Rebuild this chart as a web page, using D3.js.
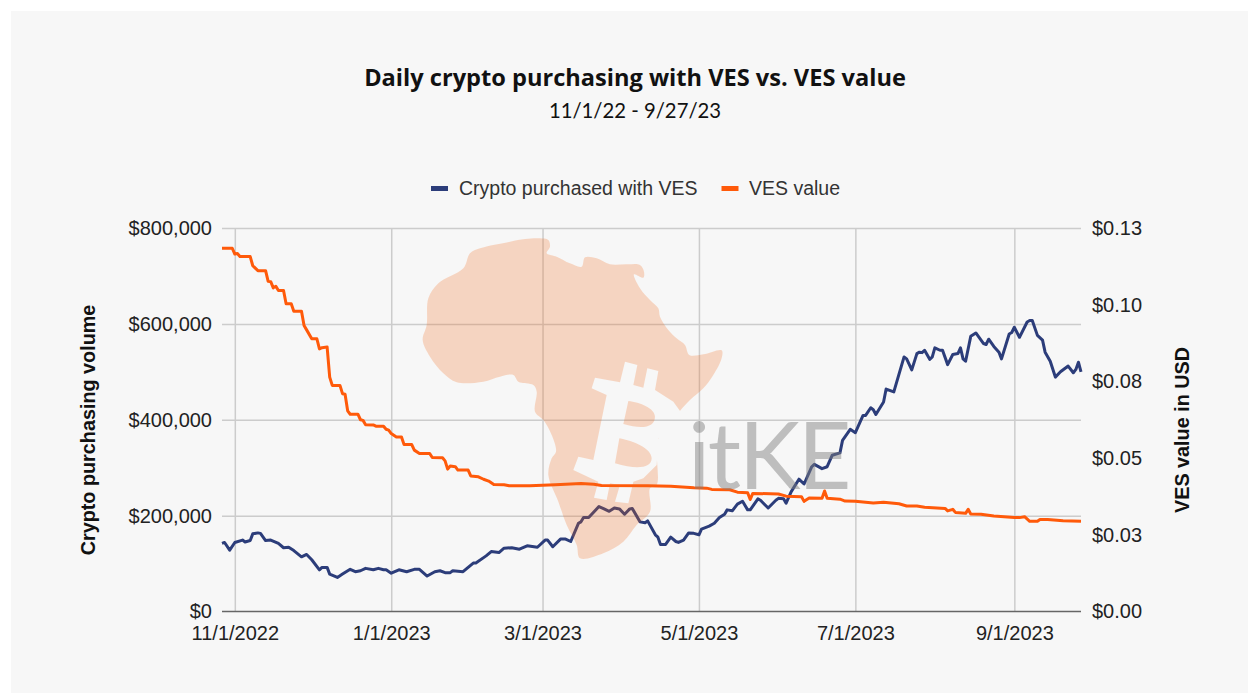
<!DOCTYPE html>
<html><head><meta charset="utf-8">
<script src="https://cdn.jsdelivr.net/npm/d3@7"></script>
<style>html,body{margin:0;padding:0;background:#fff}svg{display:block}text{font-family:"Liberation Sans",Arial,sans-serif}</style>
</head><body><div id="chart"></div>
<script>
const titleText = "Daily crypto purchasing with VES vs. VES value";
const subtitleText = "11/1/22 - 9/27/23";
const seriesNames = ["Crypto purchased with VES", "VES value"];
const leftAxisTitle = "Crypto purchasing volume";
const rightAxisTitle = "VES value in USD";
const startDate = "2022-10-27";
const xTickDates = ["2022-11-01","2023-01-01","2023-03-01","2023-05-01","2023-07-01","2023-09-01"];
const xTickLabels = ["11/1/2022","1/1/2023","3/1/2023","5/1/2023","7/1/2023","9/1/2023"];
const volumeTicks = [0,200000,400000,600000,800000];
const volumeTickLabels = ["$0","$200,000","$400,000","$600,000","$800,000"];
const vesTicks = [0,0.025,0.05,0.075,0.1,0.125];
const vesTickLabels = ["$0.00","$0.03","$0.05","$0.08","$0.10","$0.13"];
// days after startDate, and the value read on those days
const volumeDays = [0,1,3,5,8,9,11,12,14,15,17,19,22,24,26,28,31,33,35,38,39,41,42,45,47,50,52,54,56,59,61,63,64,66,69,72,75,77,80,83,85,87,89,90,94,98,99,103,105,108,110,113,116,119,123,126,127,129,132,134,136,139,140,141,143,147,149,151,153,155,157,159,160,163,165,166,169,170,171,173,175,177,178,180,182,184,186,187,190,192,194,196,197,199,201,203,205,206,209,210,213,216,217,219,220,222,225,227,230,231,234,236,238,241,242,245,247,250,251,253,254,255,258,259,262,266,267,269,271,272,273,274,276,277,278,280,281,283,285,287,288,289,290,292,294,297,298,299,301,303,304,307,308,309,311,314,315,316,318,320,321,323,325,327,330,332,333,334,335];
const volumeValues = [142000,144000,128000,144000,149000,145000,148000,162000,164000,163000,148000,149000,142000,133000,134000,127000,114000,119000,108000,87000,92000,92000,78000,71000,78000,88000,83000,85000,90000,87000,90000,87000,87000,80000,87000,83000,88000,88000,74000,83000,85000,81000,81000,85000,83000,101000,101000,116000,125000,123000,132000,133000,130000,137000,134000,149000,149000,135000,151000,151000,146000,184000,187000,196000,196000,219000,214000,209000,216000,214000,203000,214000,215000,187000,185000,189000,160000,155000,140000,140000,155000,146000,144000,149000,164000,163000,160000,172000,178000,184000,196000,203000,212000,210000,224000,230000,212000,212000,235000,232000,216000,232000,236000,235000,226000,250000,276000,266000,302000,307000,298000,302000,326000,331000,357000,380000,373000,409000,409000,425000,421000,411000,437000,464000,458000,531000,527000,504000,538000,541000,540000,545000,526000,531000,550000,545000,545000,515000,536000,538000,550000,527000,522000,574000,581000,559000,557000,568000,553000,541000,527000,579000,582000,593000,572000,604000,607000,607000,576000,566000,541000,522000,489000,500000,512000,498000,505000,520000,500000];
const vesDays = [0,4,5,6,7,11,12,14,17,18,19,20,21,22,24,25,27,28,31,32,33,35,37,38,39,41,42,43,46,47,48,49,50,53,54,55,56,59,60,63,64,65,66,68,70,71,74,75,77,81,82,86,87,88,89,91,92,96,97,100,102,104,106,110,112,120,130,140,145,148,166,175,184,189,191,198,201,205,206,207,217,220,226,227,229,234,235,236,241,243,247,254,258,264,267,271,274,282,283,285,286,290,291,292,296,301,309,311,313,315,318,319,322,328,335];
const vesValues = [0.1184,0.1184,0.1165,0.1167,0.1157,0.1157,0.1127,0.1111,0.1111,0.1076,0.1075,0.1055,0.106,0.1046,0.1046,0.1003,0.1003,0.0979,0.0979,0.0932,0.0918,0.0889,0.0889,0.0856,0.086,0.0862,0.0764,0.0737,0.0737,0.071,0.0708,0.0654,0.0643,0.0643,0.0625,0.0623,0.0609,0.0608,0.0604,0.0604,0.0594,0.0591,0.058,0.0569,0.0569,0.0544,0.0544,0.0526,0.0515,0.0515,0.0502,0.0501,0.0491,0.0464,0.0474,0.0472,0.0461,0.0461,0.0442,0.0439,0.0431,0.0425,0.0414,0.0413,0.041,0.041,0.0413,0.0417,0.0415,0.0411,0.041,0.0408,0.0403,0.0402,0.0398,0.0397,0.0389,0.0387,0.0365,0.0385,0.0383,0.0376,0.0374,0.0359,0.037,0.0369,0.0393,0.0369,0.0366,0.036,0.0359,0.0354,0.0356,0.0351,0.0344,0.0344,0.034,0.0336,0.0328,0.0333,0.0323,0.032,0.0333,0.0318,0.0317,0.0311,0.0306,0.0306,0.0309,0.0294,0.0294,0.03,0.03,0.0296,0.0294];

const W=1248,H=693, L=222, R=1081, T=228, B=611.5;
const BLUE="#2c3d7a", ORANGE="#ff5a0a", INK="#222222";
const parse=d3.utcParse("%Y-%m-%d");
const start=parse(startDate);
const dateOf=d=>d3.utcDay.offset(start,d);
const x=d3.scaleUtc().domain([start,dateOf(335)]).range([L,R]);
const yL=d3.scaleLinear().domain([0,800000]).range([B,T]);
const yR=d3.scaleLinear().domain([0,0.125]).range([B,T]);
const svg=d3.select("#chart").append("svg").attr("width",W).attr("height",H);
svg.append("rect").attr("x",11).attr("y",11).attr("width",W-11).attr("height",H-11).attr("fill","#f7f7f7");

// gridlines via the axes
const gridX=d3.axisBottom(x).tickValues(xTickDates.map(parse)).tickSize(-(B-T)).tickFormat("");
const gx=svg.append("g").attr("transform",`translate(0,${B})`).call(gridX);
gx.select(".domain").remove();
gx.selectAll("line").attr("stroke","#cccccc").attr("stroke-width",1.5);
const gridY=d3.axisLeft(yL).tickValues(volumeTicks.slice(1)).tickSize(-(R-L)).tickFormat("");
const gy=svg.append("g").attr("transform",`translate(${L},0)`).call(gridY);
gy.select(".domain").remove();
gy.selectAll("line").attr("stroke","#cccccc").attr("stroke-width",1.5);

// tick labels
const fmt=(sel)=>{sel.select(".domain").remove();sel.selectAll("line").remove();sel.selectAll("text").attr("font-size",20).attr("fill",INK).style("font-family",'"Liberation Sans",Arial,sans-serif');};
svg.append("g").attr("transform",`translate(${L-10},0)`)
  .call(d3.axisLeft(yL).tickValues(volumeTicks).tickSize(0).tickPadding(0).tickFormat((d,i)=>volumeTickLabels[i])).call(fmt);
svg.append("g").attr("transform",`translate(${R+11},0)`)
  .call(d3.axisRight(yR).tickValues(vesTicks).tickSize(0).tickPadding(0).tickFormat((d,i)=>vesTickLabels[i])).call(fmt);
svg.append("g").attr("transform",`translate(0,${B+14})`)
  .call(d3.axisBottom(x).tickValues(xTickDates.map(parse)).tickSize(0).tickPadding(0).tickFormat((d,i)=>xTickLabels[i])).call(fmt);
svg.append("line").attr("x1",L).attr("x2",R).attr("y1",B).attr("y2",B).attr("stroke","#666666").attr("stroke-width",1.5);

// series
const pair=(days,vals)=>days.map((d,i)=>[dateOf(d),vals[i]]);
const drawLine=(data,y,color)=>svg.append("path").datum(data).attr("fill","none").attr("stroke",color).attr("stroke-width",3).attr("stroke-linejoin","round")
  .attr("d",d3.line().x(d=>x(d[0])).y(d=>y(d[1])));
drawLine(pair(volumeDays,volumeValues),yL,BLUE);
drawLine(pair(vesDays,vesValues),yR,ORANGE);

// titles
svg.append("text").attr("x",635).attr("y",86).attr("text-anchor","middle").attr("font-size",23.6).attr("font-weight",700).attr("fill","#111").style("font-family","Open Sans").text(titleText);
svg.append("text").attr("x",635).attr("y",118).attr("text-anchor","middle").attr("font-size",20.3).attr("fill","#111").style("font-family","Lato").text(subtitleText);

// legend
const lg=[{x:431,tx:459,c:BLUE,t:seriesNames[0]},{x:721.5,tx:749,c:ORANGE,t:seriesNames[1]}];
lg.forEach(d=>{
  svg.append("rect").attr("x",d.x).attr("y",186).attr("width",17).attr("height",5).attr("fill",d.c);
  svg.append("text").attr("x",d.tx).attr("y",195).attr("font-size",19.5).attr("fill","#333").text(d.t);
});

// axis titles
svg.append("text").attr("transform","translate(95,430) rotate(-90)").attr("text-anchor","middle").attr("font-size",19.8).attr("font-weight",700).attr("fill","#111").text(leftAxisTitle);
svg.append("text").attr("transform","translate(1189,430) rotate(-90)").attr("text-anchor","middle").attr("font-size",19.8).attr("font-weight",700).attr("fill","#111").text(rightAxisTitle);

// watermark sits on top of the chart
const africaOutline=[[300,50],[345,42],[390,40],[415,45],[420,65],[410,85],[440,95],[480,115],[515,125],[525,97],[560,100],[600,118],[650,118],[690,120],[702,140],[700,158],[672,148],[690,190],[720,225],[745,250],[750,275],[775,315],[800,340],[825,360],[838,390],[880,388],[935,376],[935,400],[910,450],[880,490],[840,525],[808,560],[745,640],[740,780],[720,790],[720,860],[680,900],[640,950],[580,985],[510,1000],[500,960],[470,900],[445,830],[415,750],[425,700],[438,680],[425,630],[400,585],[375,560],[380,500],[370,480],[325,470],[310,450],[270,455],[220,470],[140,472],[100,445],[60,395],[38,345],[50,300],[55,220],[85,175],[160,130],[180,85],[210,70]];
const africa=d3.line().curve(d3.curveCatmullRomClosed.alpha(0.5))(africaOutline);
const coin="M555,458 L630,472 645,410 682,420 670,480 700,488 712,430 745,438 735,495 790,530 815,565 770,620 745,640 740,720 700,760 670,770 655,835 615,830 630,780 600,775 590,825 552,818 565,770 490,735 505,695 550,705 590,510 545,490Z";
const lobes="M655,528 C690,532 735,550 735,575 C735,605 700,615 640,597Z M628,640 C670,648 725,670 725,700 C725,730 680,735 615,715Z";
const wm=svg.append("g").attr("transform","translate(410,225) scale(0.33333)");
const mask=wm.append("mask").attr("id","wm").attr("maskUnits","userSpaceOnUse").attr("x",0).attr("y",0).attr("width",1100).attr("height",1100);
mask.append("path").attr("d",africa).attr("fill","#fff");
mask.append("path").attr("d",coin).attr("fill","#000");
mask.append("path").attr("d",lobes).attr("fill","#fff");
wm.append("rect").attr("width",1100).attr("height",1100).attr("fill","#f26a1b").attr("opacity",0.24).attr("mask","url(#wm)");
svg.append("text").attr("x",688).attr("y",489).attr("font-size",93).attr("letter-spacing",-2.5).attr("fill","#808080").attr("opacity",0.47).style("font-family","Lato").text("itKE");
</script></body></html>
